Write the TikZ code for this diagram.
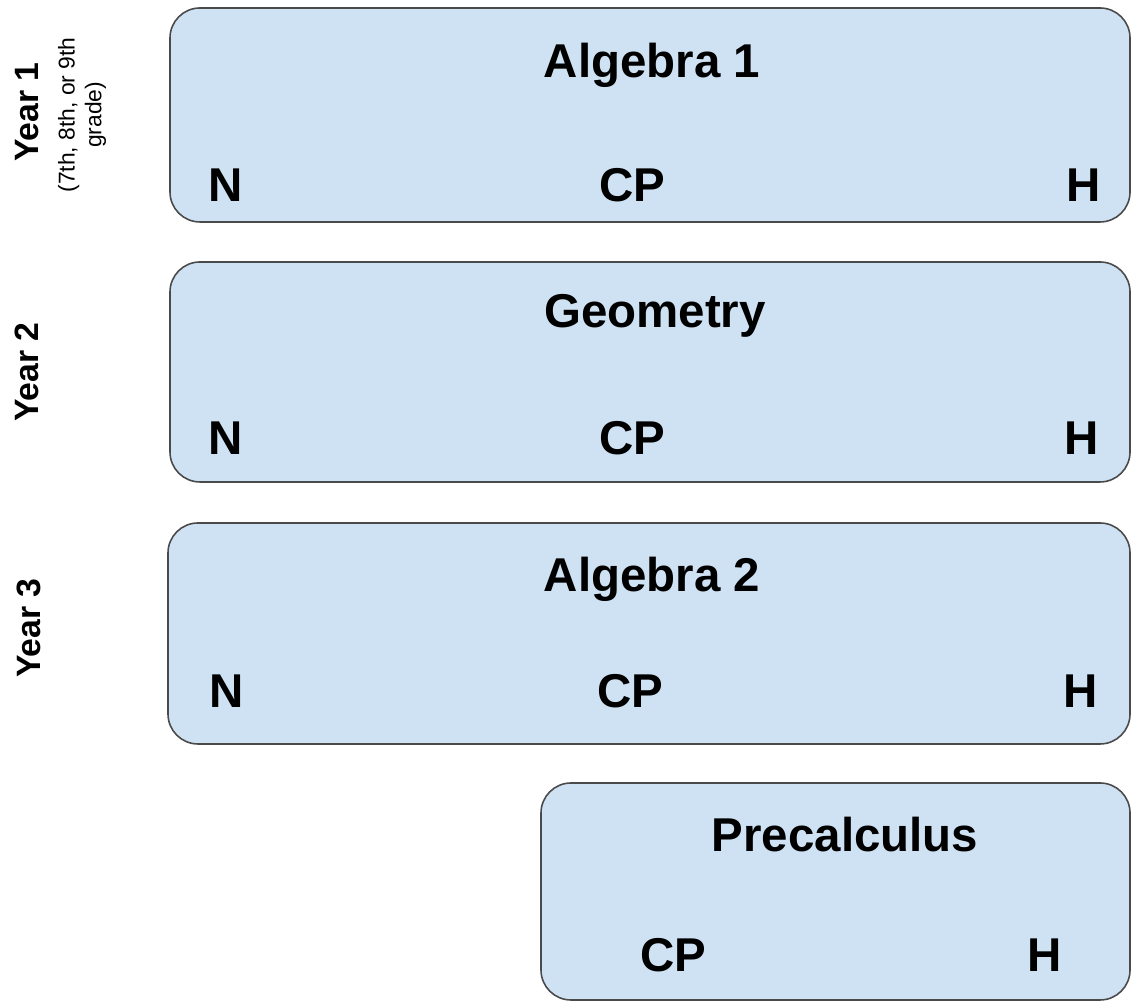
\documentclass[tikz,border=0pt]{standalone}
\usepackage{fontspec}
\setmainfont{Liberation Sans}
\usepackage{tikz}
\definecolor{boxfill}{HTML}{CFE2F3}
\definecolor{boxline}{HTML}{4A4A4A}
\tikzset{every path/.style={semithick},
  coursebox/.style={draw=boxline, line width=0.45pt, fill=boxfill,
    rounded corners=0.3cm, inner sep=0pt},
  coursetitle/.style={anchor=base, inner sep=0pt,
    font=\fontsize{13.5}{16}\selectfont\bfseries},
  level/.style={anchor=base, inner sep=0pt,
    font=\fontsize{13.5}{16}\selectfont\bfseries},
  yearlabel/.style={anchor=base, rotate=90, inner sep=0pt,
    font=\fontsize{9.6}{11}\selectfont\bfseries}}

\begin{document}
\begin{tikzpicture}
    \useasboundingbox (0,0) rectangle (11.38,10.03);

    % course boxes
    \draw[coursebox] (1.70,7.81) rectangle node (alg1) {} (11.30,9.95);
    \draw[coursebox] (1.70,5.21) rectangle node (geo) {} (11.30,7.41);
    \draw[coursebox] (1.68,2.59) rectangle node (alg2) {} (11.30,4.80);
    \draw[coursebox] (5.41,0.03) rectangle node (precalc) {} (11.30,2.20);

    % titles
    \node[coursetitle] (alg1title) at (6.52,9.25) {Algebra 1};
    \node[coursetitle] (geotitle) at (6.55,6.75) {Geometry};
    \node[coursetitle] (alg2title) at (6.52,4.11) {Algebra 2};
    \node[coursetitle] (precalctitle) at (8.45,1.51) {Precalculus};

    % levels
    \node[level] (alg1N) at (2.26,8.01) {N};
    \node[level] (alg1CP) at (6.32,8.01) {CP};
    \node[level] (alg1H) at (10.84,8.01) {H};
    \node[level] (geoN) at (2.26,5.48) {N};
    \node[level] (geoCP) at (6.32,5.48) {CP};
    \node[level] (geoH) at (10.82,5.48) {H};
    \node[level] (alg2N) at (2.27,2.95) {N};
    \node[level] (alg2CP) at (6.30,2.95) {CP};
    \node[level] (alg2H) at (10.81,2.95) {H};
    \node[level] (precalcCP) at (6.73,0.31) {CP};
    \node[level] (precalcH) at (10.45,0.31) {H};

    % years
    \node[yearlabel] (year1) at (0.39,8.91) {Year 1};
    \node[rotate=90, align=center, inner sep=0pt,
      font=\fontsize{6.5}{7.6}\selectfont] (year1note) at (0.82,8.88)
      {(7th, 8th, or 9th\\grade)};
    \node[yearlabel] (year2) at (0.38,6.31) {Year 2};
    \node[yearlabel] (year3) at (0.40,3.75) {Year 3};
  \end{tikzpicture}
\end{document}
